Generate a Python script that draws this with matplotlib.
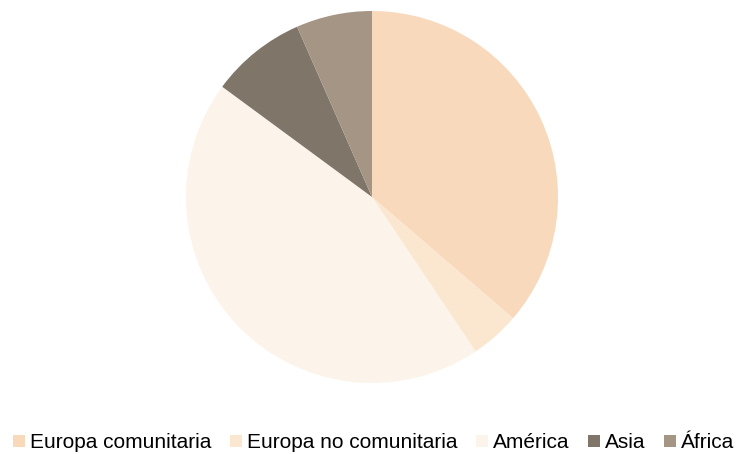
import matplotlib.pyplot as plt
from matplotlib.lines import Line2D

# datos
regiones = ['Europa comunitaria', 'Europa no comunitaria', 'América', 'Asia', 'África']
porcentajes = [36.3, 4.3, 44.5, 8.3, 6.6]
colores = ['#F8D9BC', '#FBE6CF', '#FCF4EA', '#7F7569', '#A59584']

plt.rcParams['font.family'] = ['Liberation Sans', 'DejaVu Sans']

fig = plt.figure(figsize=(7.36, 4.54), dpi=100)
ax = fig.add_axes([(372 - 186) / 736, (454 - 383) / 454, 372 / 736, 372 / 454])

ax.pie(porcentajes, colors=colores, startangle=90, counterclock=False,
       radius=1, wedgeprops={'linewidth': 0})
ax.set_xlim(-1, 1)
ax.set_ylim(-1, 1)
ax.axis('off')

# leyenda con cuadrados
handles = [Line2D([], [], marker='s', linestyle='', markersize=8,
                  markerfacecolor=c, markeredgewidth=0) for c in colores]
fig.legend(handles, regiones, loc='center', bbox_to_anchor=(373.5 / 736, 11 / 454),
           ncol=5, frameon=False, fontsize=15, handlelength=0.55,
           handletextpad=0.25, columnspacing=0.9, borderaxespad=0)

fig.savefig('out.png', dpi=100)
